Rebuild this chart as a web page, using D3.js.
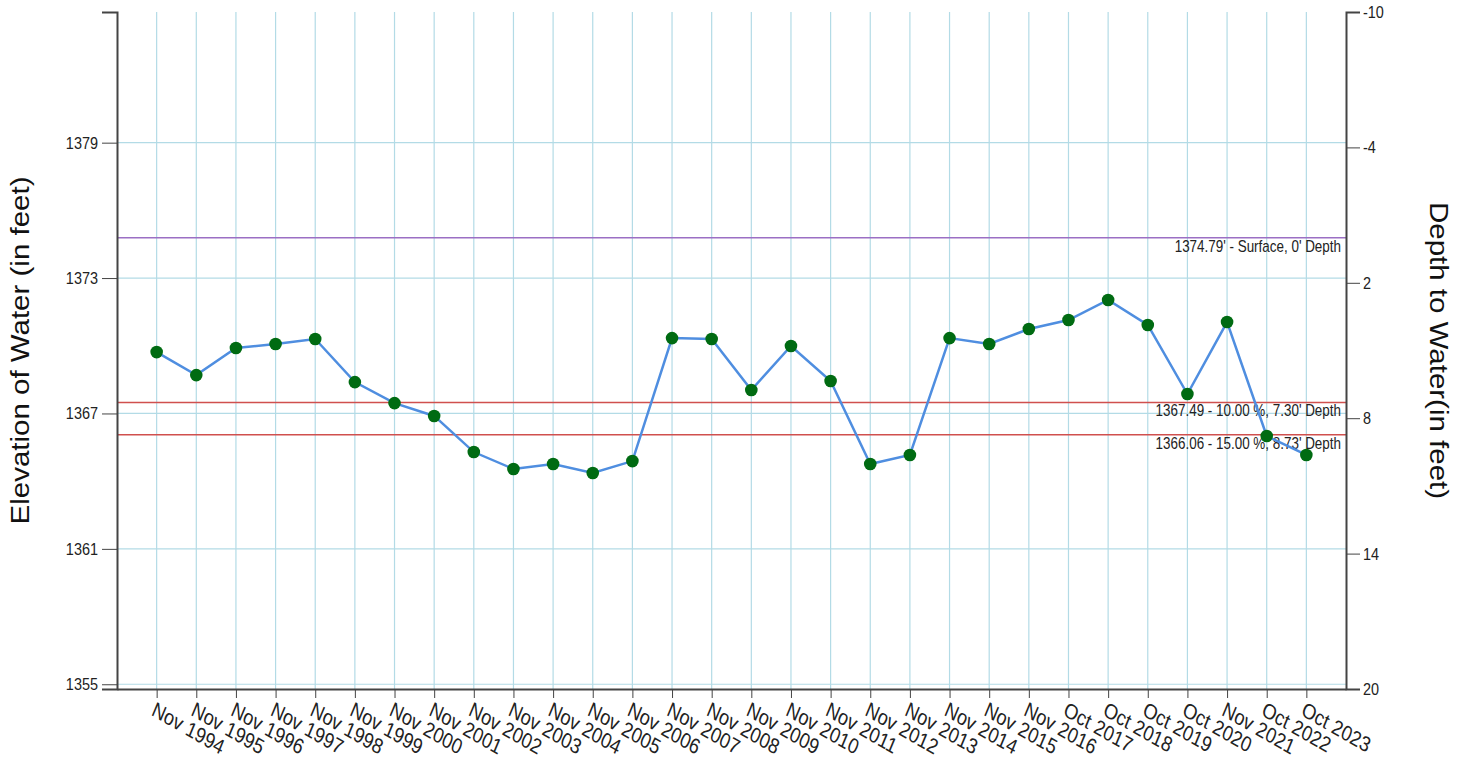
<!DOCTYPE html>
<html>
<head>
<meta charset="utf-8">
<title>Water elevation</title>
<script src="https://cdn.jsdelivr.net/npm/d3@7"></script>
<style>
  body { margin: 0; background: #fff; }
  svg { font-family: "Liberation Sans", Arial, sans-serif; }
  .axis path, .axis line { stroke: #444; }
  .axis text { fill: #222; }
</style>
</head>
<body>
<svg id="chart" width="1468" height="764"></svg>
<script>
var dates = ["Nov 1994","Nov 1995","Nov 1996","Nov 1997","Nov 1998","Nov 1999","Nov 2000","Nov 2001",
  "Nov 2002","Nov 2003","Nov 2004","Nov 2005","Nov 2006","Nov 2007","Nov 2008","Nov 2009","Nov 2010",
  "Nov 2011","Nov 2012","Nov 2013","Nov 2014","Nov 2015","Nov 2016","Oct 2017","Oct 2018","Oct 2019",
  "Oct 2020","Nov 2021","Oct 2022","Oct 2023"];
var elevations = [1369.72,1368.70,1369.90,1370.08,1370.30,1368.39,1367.46,1366.89,
  1365.29,1364.54,1364.76,1364.36,1364.89,1370.34,1370.30,1368.04,1369.99,
  1368.44,1364.76,1365.16,1370.34,1370.08,1370.74,1371.14,1372.03,1370.92,
  1367.86,1371.05,1366.00,1365.16];
var leftTicks = [1355, 1361, 1367, 1373, 1379];
var rightTicks = [-10, -4, 2, 8, 14, 20];
var surface = 1374.79;
var refValues = [1374.79, 1367.49, 1366.06];
var refLabels = ["1374.79' - Surface, 0' Depth", "1367.49 - 10.00 %, 7.30' Depth", "1366.06 - 15.00 %, 8.73' Depth"];
var refColors = ["#9b6fc4", "#d0504e", "#d0504e"];

// the picture is a little squeezed sideways, so text is narrowed
var sq = 0.85;

var svg = d3.select("#chart"),
    margin = {top: 12, right: 122, bottom: 75, left: 117},
    width = +svg.attr("width") - margin.left - margin.right,
    height = +svg.attr("height") - margin.top - margin.bottom;

var g = svg.append("g").attr("transform", "translate(" + margin.left + "," + margin.top + ")");

var x = d3.scalePoint().domain(dates).range([0, width]).padding(1);
// 30 feet shown: from 20' below surface to 10' above
var y = d3.scaleLinear().domain([surface - 20, surface + 10]).range([height, 0]);
var yDepth = d3.scaleLinear().domain([20, -10]).range([height, 0]);

// grid
g.append("g").selectAll("line").data(dates).enter().append("line")
    .attr("x1", function(d) { return x(d); }).attr("x2", function(d) { return x(d); })
    .attr("y1", 0).attr("y2", height)
    .attr("stroke", "#b3dbe6").attr("stroke-width", 1.2);
g.append("g").selectAll("line").data(leftTicks).enter().append("line")
    .attr("x1", 0).attr("x2", width)
    .attr("y1", function(d) { return y(d); }).attr("y2", function(d) { return y(d); })
    .attr("stroke", "#b3dbe6").attr("stroke-width", 1.2);

// reference lines
g.append("g").selectAll("line").data(refValues).enter().append("line")
    .attr("x1", 0).attr("x2", width)
    .attr("y1", function(d) { return y(d); }).attr("y2", function(d) { return y(d); })
    .attr("stroke", function(d, i) { return refColors[i]; }).attr("stroke-width", 1.5);

// axes
g.append("g").attr("class", "axis")
    .call(d3.axisLeft(y).tickValues(leftTicks).tickSize(15).tickFormat(d3.format("d")))
    .call(function(a) {
      a.select(".domain").attr("stroke-width", 2);
      a.selectAll("text").style("font-size", "17px").attr("x", 0)
        .attr("transform", "translate(-19,0) scale(" + sq + ",1)");
    });
g.append("g").attr("class", "axis")
    .attr("transform", "translate(" + width + ",0)")
    .call(d3.axisRight(yDepth).tickValues(rightTicks).tickSize(14).tickFormat(function(d) { return String(d); }))
    .call(function(a) {
      a.select(".domain").attr("stroke-width", 2);
      a.selectAll("text").style("font-size", "17px").attr("x", 0)
        .attr("transform", "translate(17,0) scale(" + sq + ",1)");
    });
g.append("g").attr("class", "axis")
    .attr("transform", "translate(0," + height + ")")
    .call(d3.axisBottom(x).tickSize(9).tickSizeOuter(0))
    .call(function(a) {
      a.select(".domain").attr("stroke-width", 2);
      a.selectAll("text")
        .style("font-size", "21.5px")
        .attr("text-anchor", "start")
        .attr("y", 0).attr("dy", "0.71em")
        .attr("transform", "translate(-1,12) scale(" + sq + ",1) rotate(26)");
    });

// reference labels
g.append("g").selectAll("text").data(refValues).enter().append("text")
    .attr("transform", function(d) { return "translate(" + (width - 5) + "," + (y(d) + 14) + ") scale(" + sq + ",1)"; })
    .attr("text-anchor", "end")
    .style("font-size", "15.8px").attr("fill", "#222")
    .text(function(d, i) { return refLabels[i]; });

// series
var line = d3.line()
    .x(function(d, i) { return x(dates[i]); })
    .y(function(d) { return y(d); });
g.append("path").datum(elevations)
    .attr("fill", "none").attr("stroke", "#4f8ee0").attr("stroke-width", 2.5)
    .attr("d", line);
g.append("g").selectAll("circle").data(elevations).enter().append("circle")
    .attr("cx", function(d, i) { return x(dates[i]); })
    .attr("cy", function(d) { return y(d); })
    .attr("r", 6.3).attr("fill", "#006b12");

// axis titles
svg.append("text")
    .attr("transform", "translate(29," + (margin.top + height / 2) + ") scale(" + sq + ",1) rotate(-90)")
    .attr("text-anchor", "middle").style("font-size", "29.5px").attr("fill", "#111")
    .text("Elevation of Water (in feet)");
svg.append("text")
    .attr("transform", "translate(1430," + (margin.top + height / 2) + ") scale(" + sq + ",1) rotate(90)")
    .attr("text-anchor", "middle").style("font-size", "29.5px").attr("fill", "#111")
    .text("Depth to Water(in feet)");
</script>
</body>
</html>
